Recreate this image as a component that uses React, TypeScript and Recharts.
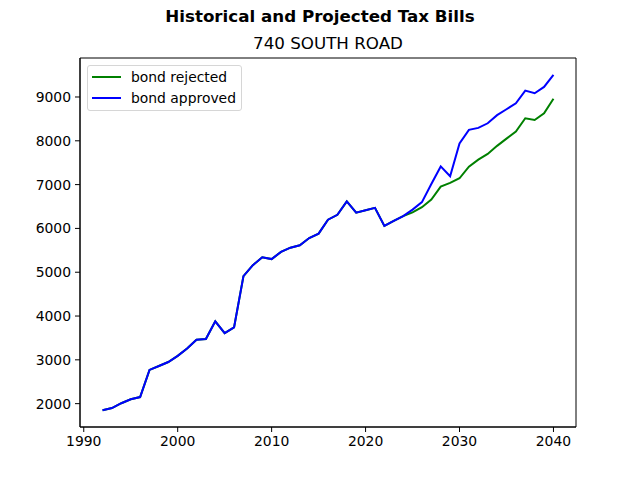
import {
    LineChart,
    Line,
    XAxis,
    YAxis,
    ReferenceArea,
} from "recharts";

const YEARS = [
    1992, 1993, 1994, 1995, 1996, 1997, 1998, 1999, 2000, 2001,
    2002, 2003, 2004, 2005, 2006, 2007, 2008, 2009, 2010, 2011,
    2012, 2013, 2014, 2015, 2016, 2017, 2018, 2019, 2020, 2021,
    2022, 2023, 2024, 2025, 2026, 2027, 2028, 2029, 2030, 2031,
    2032, 2033, 2034, 2035, 2036, 2037, 2038, 2039, 2040,
];

const BOND_REJECTED = [
    1850, 1900, 2010, 2100, 2150, 2770, 2860, 2950, 3090, 3260,
    3460, 3475, 3880, 3610, 3740, 4910, 5160, 5340, 5300, 5465,
    5560, 5615, 5780, 5880, 6200, 6310, 6615, 6360, 6415, 6470,
    6055, 6170, 6280, 6365, 6485, 6660, 6955, 7040, 7145, 7410,
    7570, 7700, 7885, 8050, 8210, 8515, 8475, 8630, 8960,
];

const BOND_APPROVED = [
    1850, 1900, 2010, 2100, 2150, 2770, 2860, 2950, 3090, 3260,
    3460, 3475, 3880, 3610, 3740, 4910, 5160, 5340, 5300, 5465,
    5560, 5615, 5780, 5880, 6200, 6310, 6615, 6360, 6415, 6470,
    6055, 6170, 6280, 6430, 6600, 7015, 7415, 7190, 7940, 8250,
    8295, 8400, 8585, 8720, 8855, 9145, 9085, 9230, 9505,
];

const X_TICKS = [1990, 2000, 2010, 2020, 2030, 2040];
const Y_TICKS = [2000, 3000, 4000, 5000, 6000, 7000, 8000, 9000];

const X_DOMAIN = [1989.6, 2042.4];
const Y_DOMAIN = [1467, 9890];

const SERIES = [
    { key: "rejected", label: "bond rejected", color: "#008000" },
    { key: "approved", label: "bond approved", color: "#0000ff" },
];

const data = YEARS.map((year, i) => ({
    year,
    rejected: BOND_REJECTED[i],
    approved: BOND_APPROVED[i],
}));

const FONT = "'DejaVu Sans', sans-serif";
const tickStyle = { fontSize: 13.9, fill: "#000", fontFamily: FONT };

function LegendBox() {
    return (
        <div
            style={{
                position: "absolute",
                left: 87,
                top: 65,
                border: "1px solid #d6d6d6",
                borderRadius: 3,
                background: "rgba(255,255,255,0.8)",
                width: 155,
                height: 46,
                boxSizing: "border-box",
                fontFamily: FONT,
                fontSize: 13.9,
                color: "#000",
            }}
        >
            {SERIES.map((s, i) => (
                <div
                    key={s.key}
                    style={{
                        position: "absolute",
                        left: 0,
                        top: 1 + i * 21,
                        height: 20,
                        display: "flex",
                        alignItems: "center",
                        whiteSpace: "nowrap",
                    }}
                >
                    <span
                        style={{
                            display: "inline-block",
                            marginLeft: 4,
                            width: 29,
                            height: 2,
                            background: s.color,
                        }}
                    />
                    <span style={{ marginLeft: 10 }}>{s.label}</span>
                </div>
            ))}
        </div>
    );
}

export default function App() {
    return (
        <div
            style={{
                position: "absolute",
                left: 0,
                top: 0,
                width: 640,
                height: 480,
                background: "#fff",
                fontFamily: FONT,
            }}
        >
            <div
                style={{
                    position: "absolute",
                    left: 0,
                    width: 640,
                    top: 6,
                    textAlign: "center",
                    fontWeight: "bold",
                    fontSize: 16.7,
                    lineHeight: "20px",
                }}
            >
                Historical and Projected Tax Bills
            </div>
            <div
                style={{
                    position: "absolute",
                    left: 80,
                    width: 496,
                    top: 33,
                    textAlign: "center",
                    fontSize: 16.7,
                    lineHeight: "20px",
                }}
            >
                740 SOUTH ROAD
            </div>
            <LineChart
                width={640}
                height={480}
                data={data}
                margin={{ top: 58, right: 64, bottom: 23, left: 30 }}
            >
                <XAxis
                    dataKey="year"
                    type="number"
                    domain={X_DOMAIN}
                    ticks={X_TICKS}
                    allowDataOverflow
                    height={30}
                    tickSize={5}
                    tickMargin={4}
                    tick={tickStyle}
                    stroke="#000"
                    tickLine={{ stroke: "#000" }}
                />
                <YAxis
                    type="number"
                    domain={Y_DOMAIN}
                    ticks={Y_TICKS}
                    allowDataOverflow
                    width={50}
                    tickSize={5}
                    tickMargin={4}
                    tick={tickStyle}
                    stroke="#000"
                    tickLine={{ stroke: "#000" }}
                />
                <ReferenceArea
                    x1={X_DOMAIN[0]}
                    x2={X_DOMAIN[1]}
                    y1={Y_DOMAIN[0]}
                    y2={Y_DOMAIN[1]}
                    fill="none"
                    stroke="#000"
                    strokeWidth={1}
                    fillOpacity={0}
                />
                {SERIES.map((s) => (
                    <Line
                        key={s.key}
                        dataKey={s.key}
                        name={s.label}
                        stroke={s.color}
                        strokeWidth={2}
                        dot={false}
                        isAnimationActive={false}
                    />
                ))}
            </LineChart>
            <LegendBox />
        </div>
    );
}
